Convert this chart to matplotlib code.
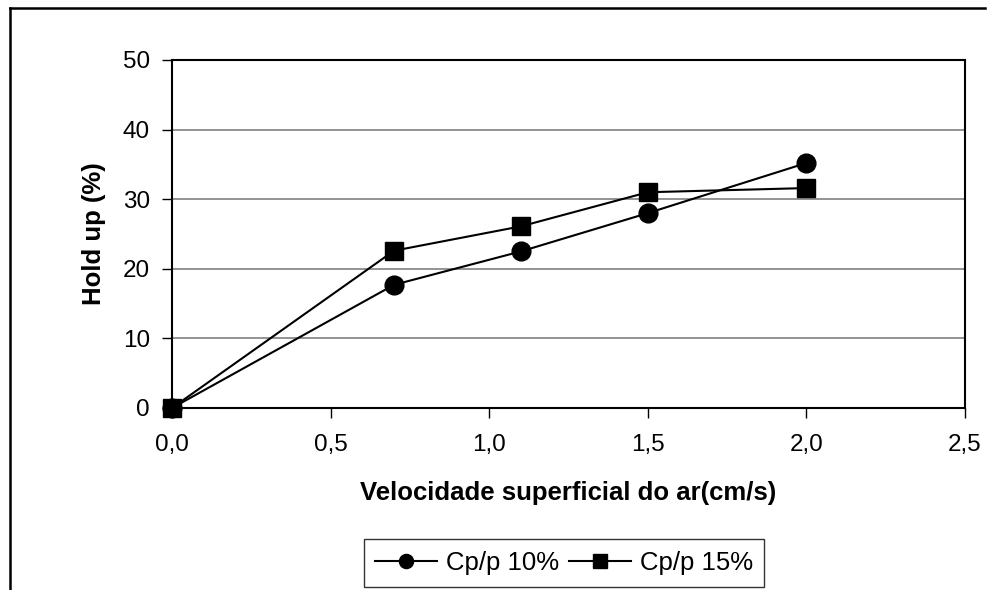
import matplotlib
matplotlib.use('Agg')
import matplotlib.pyplot as plt
from matplotlib.lines import Line2D
from matplotlib.ticker import FuncFormatter

plt.rcParams['font.family'] = ['Liberation Sans', 'DejaVu Sans']

velocidade = [0.0, 0.7, 1.1, 1.5, 2.0]
cp10 = [0.0, 17.7, 22.5, 28.0, 35.2]
cp15 = [0.0, 22.6, 26.1, 31.0, 31.6]

fig = plt.figure(figsize=(9.95, 5.9), dpi=100)
ax = fig.add_axes([172 / 995, 1 - 408 / 590, (965 - 172) / 995, (408 - 60) / 590])

ax.plot(velocidade, cp10, color='black', lw=1.5, marker='o', ms=13.5, label='Cp/p 10%',
        clip_on=False, zorder=3)
ax.plot(velocidade, cp15, color='black', lw=1.5, marker='s', ms=12.5, label='Cp/p 15%',
        clip_on=False, zorder=3)

ax.set_xlim(0, 2.5)
ax.set_ylim(0, 50)
ax.set_xticks([0, 0.5, 1.0, 1.5, 2.0, 2.5])
ax.set_yticks(range(0, 51, 10))
ax.xaxis.set_major_formatter(FuncFormatter(lambda v, p: f'{v:.1f}'.replace('.', ',')))
ax.yaxis.grid(True, color='#808080', lw=1.2)
ax.set_axisbelow(True)
for s in ax.spines.values():
    s.set_linewidth(1.5)
ax.tick_params(labelsize=17.5, length=7, width=1, direction='out')
ax.tick_params(axis='x', pad=12)
ax.tick_params(axis='y', pad=9)

ax.set_xlabel('Velocidade superficial do ar(cm/s)', fontsize=18.5, fontweight='bold', labelpad=18)
ax.set_ylabel('Hold up (%)', fontsize=18.5, fontweight='bold', labelpad=12)

leg = ax.legend(loc='center', bbox_to_anchor=(564 / 995, 1 - 563 / 590),
                bbox_transform=fig.transFigure, ncol=2, fontsize=18.5, frameon=True,
                fancybox=False, edgecolor='black', handlelength=2.4, handletextpad=0.35,
                columnspacing=0.4, borderpad=0.45, borderaxespad=0, markerscale=0.75)
leg.get_frame().set_linewidth(1)

# outer chart frame (only top and left edges visible in the image)
fig.add_artist(Line2D([10 / 995, 985 / 995], [1 - 8 / 590, 1 - 8 / 590],
                      transform=fig.transFigure, color='black', lw=1.8))
fig.add_artist(Line2D([10 / 995, 10 / 995], [1 - 8 / 590, 0],
                      transform=fig.transFigure, color='black', lw=1.8))

fig.savefig('out.png', dpi=100)
